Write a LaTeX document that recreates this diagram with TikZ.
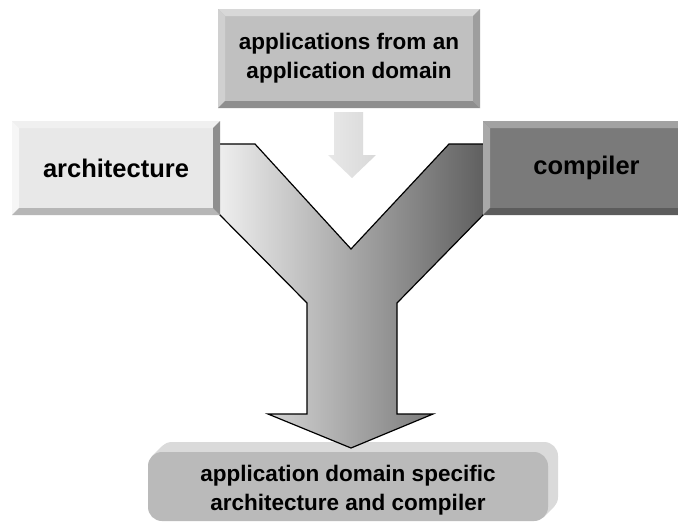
\documentclass[tikz,border=0pt]{standalone}
\usepackage{fontspec}
\setmainfont{Liberation Sans}
\usetikzlibrary{calc}

\definecolor{topface}{HTML}{C0C0C0}
\definecolor{topbevT}{HTML}{D8D8D8}
\definecolor{topbevL}{HTML}{D0D0D0}
\definecolor{topbevB}{HTML}{8E8E8E}
\definecolor{topbevR}{HTML}{9E9E9E}
\definecolor{archface}{HTML}{E8E8E8}
\definecolor{archbevT}{HTML}{F0F0F0}
\definecolor{archbevL}{HTML}{F6F6F6}
\definecolor{archbevB}{HTML}{B6B6B6}
\definecolor{archbevR}{HTML}{8E8E8E}
\definecolor{compface}{HTML}{7A7A7A}
\definecolor{compbevT}{HTML}{A2A2A2}
\definecolor{compbevL}{HTML}{A8A8A8}
\definecolor{compbevB}{HTML}{5C5C5C}
\definecolor{compbevR}{HTML}{5C5C5C}
\definecolor{resface}{HTML}{BABABA}
\definecolor{resside}{HTML}{DADADA}
\definecolor{yleft}{HTML}{F0F0F0}
\definecolor{yright}{HTML}{5E5E5E}

\tikzset{
  panel/.style={inner sep=0pt, outer sep=0pt, align=center, text=black},
  bigtext/.style={font=\bfseries\fontsize{25.5}{30}\selectfont},
  smalltext/.style={font=\bfseries\fontsize{22.5}{29}\selectfont},
  flowline/.style={draw=black, line width=1.2pt, line join=miter},
}

% bevelled frame around a node: #1 node, #2 bevel width, #3..#6 colours of top, left, bottom, right
\newcommand\bevelframe[6]{%
  \fill[#3] (#1.north west) -- (#1.north east) -- ($(#1.north east)+(-#2,#2)$) -- ($(#1.north west)+(#2,#2)$) -- cycle;
  \fill[#4] (#1.north west) -- (#1.south west) -- ($(#1.south west)+(#2,-#2)$) -- ($(#1.north west)+(#2,#2)$) -- cycle;
  \fill[#5] (#1.south west) -- (#1.south east) -- ($(#1.south east)+(-#2,-#2)$) -- ($(#1.south west)+(#2,-#2)$) -- cycle;
  \fill[#6] (#1.north east) -- (#1.south east) -- ($(#1.south east)+(-#2,-#2)$) -- ($(#1.north east)+(-#2,#2)$) -- cycle;
}

\begin{document}
\begin{tikzpicture}[x=1pt, y=-1pt]
\useasboundingbox (0,0) rectangle (678,525);
\clip (0,0) rectangle (678,525);
\fill[white] (0,0) rectangle (678,525);

% result block: extruded rounded slab
\foreach \i in {10,9,...,1}
  \fill[resside, rounded corners=14pt] (148+\i,452-\i) rectangle (548+\i,521-\i);
\fill[resface, rounded corners=14pt] (148,452) rectangle (548,521);
\node[panel, smalltext] (res) at (348,490) {application domain specific\\architecture and compiler};

% the merging Y-shaped arrow
\coordinate (yA) at (216,144);
\coordinate (yB) at (255,144);
\coordinate (yNotch) at (351,249);
\coordinate (yC) at (449,144);
\coordinate (yD) at (487,144);
\coordinate (yE) at (487,211);
\coordinate (yF) at (397,303);
\coordinate (yG) at (397,414);
\coordinate (yH) at (433,414);
\coordinate (yTip) at (351,448);
\coordinate (yI) at (268,414);
\coordinate (yJ) at (307,414);
\coordinate (yK) at (307,303);
\coordinate (yL) at (216,211);
\shade[left color=yleft, right color=yright]
  (yA) -- (yB) -- (yNotch) -- (yC) -- (yD) -- (yE) -- (yF) -- (yG) -- (yH) -- (yTip)
  -- (yI) -- (yJ) -- (yK) -- (yL) -- cycle;
\draw[flowline]
  (yA) -- (yB) -- (yNotch) -- (yC) -- (yD) -- (yE) -- (yF) -- (yG) -- (yH) -- (yTip)
  -- (yI) -- (yJ) -- (yK) -- (yL) -- cycle;

% architecture block
\node[panel, fill=archface, minimum width=208pt, minimum height=94pt] (archbox) at (116,168) {};
\bevelframe{archbox}{7}{archbevT}{archbevL}{archbevB}{archbevR}
\node[panel, bigtext] (arch) at (archbox.center) {architecture};

% compiler block
\node[panel, fill=compface, minimum width=207pt, minimum height=94pt] (compbox) at (586.5,168) {};
\bevelframe{compbox}{7}{compbevT}{compbevL}{compbevB}{compbevR}
\node[panel, bigtext] (comp) at (compbox.center) {compiler};

% applications block
\node[panel, fill=topface, minimum width=262pt, minimum height=99pt] (appsbox) at (349,58.5) {};
\bevelframe{appsbox}{7}{topbevT}{topbevL}{topbevB}{topbevR}
\node[panel, smalltext] (apps) at (appsbox.center) {applications from an\\application domain};

% small arrow from applications into the Y
\coordinate (sA) at (334,112);
\coordinate (sB) at (363,112);
\coordinate (sC) at (363,155);
\coordinate (sD) at (376,155);
\coordinate (sTip) at (352,178);
\coordinate (sE) at (328,155);
\coordinate (sF) at (334,155);
\shade[left color=gray!18, right color=gray!30]
  (sA) -- (sB) -- (sC) -- (sD) -- (sTip) -- (sE) -- (sF) -- cycle;
\end{tikzpicture}
\end{document}
